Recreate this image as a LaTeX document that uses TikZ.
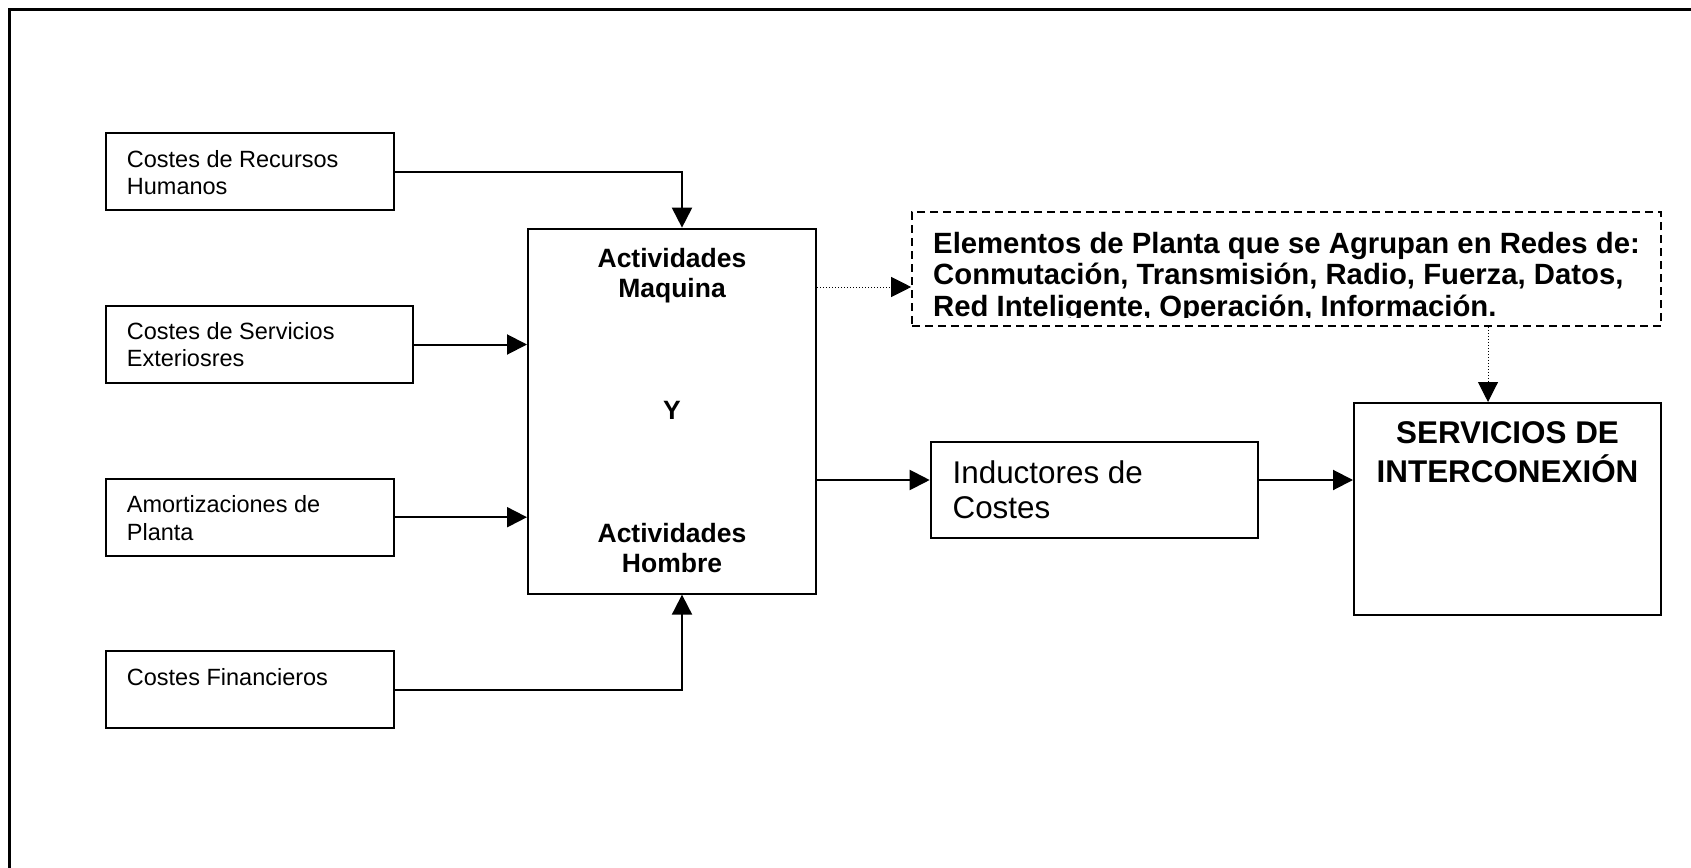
\documentclass[tikz,border=0pt]{standalone}
\usepackage{fontspec}
\setmainfont{Liberation Sans}
\usetikzlibrary{arrows.meta}
\newcommand\mytightlines{\lineskiplimit=-100pt\relax\lineskip=0pt\relax}
\tikzset{
  box/.style={draw, line width=2pt, rectangle, inner sep=0pt},
  dbox/.style={draw, line width=1.6pt, dash pattern=on 8pt off 5pt, rectangle, inner sep=0pt},
  arr/.style={line width=2pt, -{Triangle[length=20pt,width=20pt]}},
  dotarr/.style={line width=1pt, dash pattern=on 1pt off 2pt, -{Triangle[length=20pt,width=20pt]}},
  small/.style={inner sep=0pt, align=left, font=\fontsize{23.5}{27.6}\selectfont},
  mid/.style={inner sep=0pt, align=center, font=\fontsize{26.5}{29.7}\selectfont\bfseries},
}
\begin{document}
\begin{tikzpicture}[x=1pt,y=-1pt]
\useasboundingbox (0,0) rectangle (1691,867);
% frame (only top and left edges visible)
\draw[line width=2.5pt] (9.5,875) -- (9.5,9.5) -- (1700,9.5);

% boxes
\node[box, minimum width=288.3pt, minimum height=77pt] (b1) at (249.85,171.5) {};
\node[box, minimum width=307.3pt, minimum height=77pt] (b2) at (259.35,344.5) {};
\node[box, minimum width=288.3pt, minimum height=77pt] (b3) at (249.85,517.2) {};
\node[box, minimum width=288.3pt, minimum height=77pt] (b4) at (249.85,689.5) {};
\node[box, minimum width=288pt, minimum height=365pt] (big) at (672,411.15) {};
\node[dbox, minimum width=749pt, minimum height=114pt] (dash) at (1286.5,269) {};
\node[box, minimum width=327.3pt, minimum height=96pt] (ind) at (1094.35,489.7) {};
\node[box, minimum width=307pt, minimum height=212pt] (serv) at (1507.5,509) {};

% texts (anchor = baseline of the last line)
\node[small, anchor=base west] (t1) at (126.7,194.8) {Costes de Recursos\\Humanos};
\node[small, anchor=base west] (t2) at (126.7,366.8) {Costes de Servicios\\Exteriosres};
\node[small, anchor=base west] (t3) at (126.7,540) {Amortizaciones de\\Planta};
\node[small, anchor=base west] (t4) at (126.7,685.5) {Costes Financieros};
\node[mid, anchor=base] (tm) at (672,297) {Actividades\\Maquina};
\node[mid, anchor=base] (ty) at (672,419) {Y};
\node[mid, anchor=base] (th) at (672,572) {Actividades\\Hombre};
\begin{scope}
\clip (912,205) rectangle (1661,317.3);
\node[inner sep=0pt, align=left, anchor=base west, font={\fontsize{29.3}{31.2}\selectfont\bfseries\mytightlines}] (td) at (933,316)
  {Elementos de Planta que se Agrupan en Redes de:\\Conmutación, Transmisión, Radio, Fuerza, Datos,\\Red Inteligente, Operación, Información.};
\end{scope}
\node[inner sep=0pt, align=left, anchor=base west, font=\fontsize{31.4}{35.5}\selectfont] (ti) at (952.4,518.5) {Inductores de\\Costes};
\node[inner sep=0pt, align=center, anchor=base, font=\fontsize{31.4}{38.6}\selectfont\bfseries] (ts) at (1507.5,482.5) {SERVICIOS DE\\INTERCONEXIÓN};

% connectors
\draw[arr] (b1.east) -| ([xshift=10pt]big.north);
\draw[arr] (b2.east) -- (big.west |- b2.east);
\draw[arr] (b3.east) -- (big.west |- b3.east);
\draw[arr] (b4.east) -| ([xshift=10pt]big.south);
\coordinate (dw) at ([yshift=-18pt]dash.west);
\draw[dotarr] (big.east |- dw) -- (dw);
\coordinate (sn) at ([xshift=-19.5pt]serv.north);
\draw[dotarr] (dash.south -| sn) -- (sn);
\coordinate (iw) at ([yshift=9.7pt]ind.west);
\draw[arr] (big.east |- iw) -- (iw);
\draw[arr] (ind.east |- iw) -- (serv.west |- iw);
\end{tikzpicture}
\end{document}
